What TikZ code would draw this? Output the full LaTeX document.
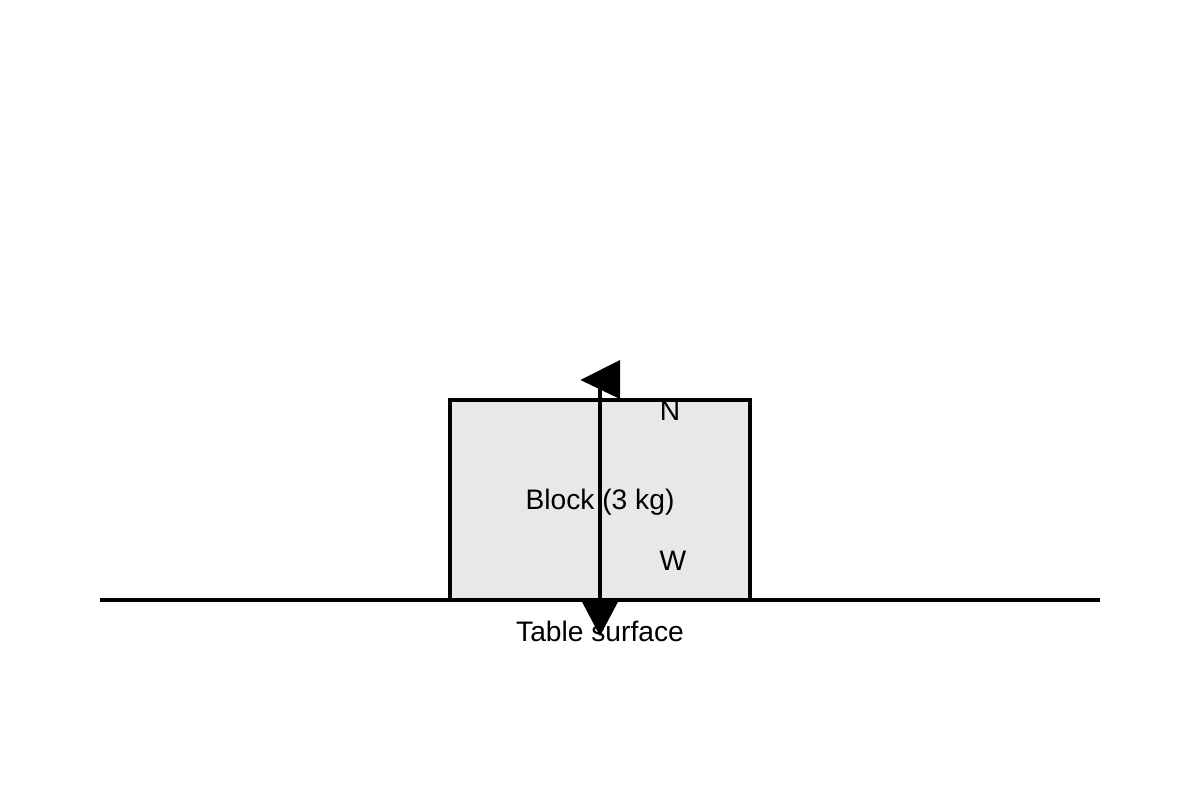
\documentclass[tikz,border=0pt]{standalone}
\usepackage{fontspec}
\setmainfont{Liberation Sans}
\usetikzlibrary{positioning, calc}

\begin{document}
\begin{tikzpicture}[
    x=1pt, y=-1pt,
    block/.style={rectangle, draw=black, line width=4pt, fill=black!9, minimum width=300pt, minimum height=200pt, inner sep=0pt},
    surface/.style={line width=4pt, black},
    force/.style={line width=4pt, black},
    head/.style={fill=black, draw=none},
    lbl/.style={font=\fontsize{28.2}{34}\selectfont, inner sep=0pt}
]
\useasboundingbox (0,0) rectangle (1200,800);

% Table
\draw[surface] (100,600) -- (1100,600);

% Block
\node[block] (block) at (600,500) {};
\node[lbl] (name) at (600,502) {Block (3 kg)};

% Force line and heads
\draw[force] (600,388) -- (block.south);
\fill[head] (580.5,380) -- (620,360) -- (620,399) -- cycle;
\fill[head] (580,598) -- (620,598) -- (600,636) -- cycle;

% Labels
\node[lbl] (N) at (670,411) {N};
\node[lbl] (W) at (673,561) {W};
\node[lbl] (table) at (600,631) {Table surface};

\end{tikzpicture}
\end{document}
